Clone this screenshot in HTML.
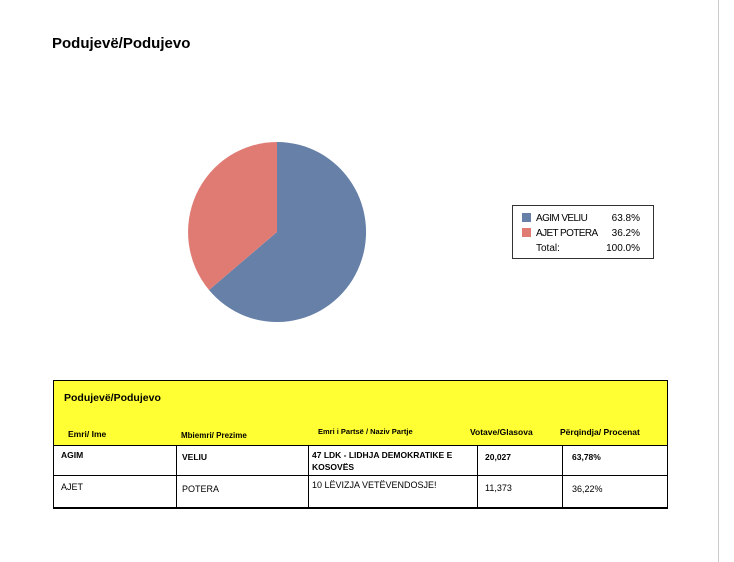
<!DOCTYPE html>
<html><head><meta charset="utf-8"><style>
body{margin:0;width:734px;height:562px;background:#fff;position:relative;overflow:hidden;font-family:"Liberation Sans",sans-serif;}
.a{position:absolute;white-space:nowrap;}
</style></head><body>
<div class="a" style="left:718px;top:0;width:1px;height:562px;background:#ccc"></div>
<div class="a" style="left:52px;top:35px;font-size:15px;font-weight:bold;">Podujevë/Podujevo</div>
<svg class="a" style="left:0;top:0" width="734" height="562">
<path d="M277,232 L277,142 A89,90 0 1 1 209,290 Z" fill="#6680a8"/>
<path d="M277,232 L209,290 A89,90 0 0 1 277,142 Z" fill="#e07b74"/>
<rect x="512.5" y="205.5" width="141" height="53" fill="#fff" stroke="#333"/>
<rect x="522" y="213" width="9" height="9" fill="#6680a8"/>
<rect x="522" y="228" width="9" height="9" fill="#e07b74"/>
<g font-size="10" font-family="Liberation Sans" fill="#000">
<text x="536" y="221" letter-spacing="-0.6">AGIM VELIU</text><text x="640" y="221" text-anchor="end">63.8%</text>
<text x="536" y="236" letter-spacing="-0.6">AJET POTERA</text><text x="640" y="236" text-anchor="end">36.2%</text>
<text x="536" y="251">Total:</text><text x="640" y="251" text-anchor="end">100.0%</text>
</g>
<rect x="53" y="380" width="615" height="65" fill="#ffff33"/>
<g stroke="#000" fill="none">
<path d="M53.5,380 V508 M667.5,380 V508 M53,380.5 H668 M53,445.5 H668 M53,475.5 H668"/>
<path d="M53,508 H668" stroke-width="2"/>
<path d="M176.5,445 V508 M308.5,445 V508 M477.5,445 V508 M562.5,445 V508"/>
</g>
<g font-family="Liberation Sans" font-size="9" fill="#000">
<text x="64" y="401" font-size="10.5" font-weight="bold">Podujevë/Podujevo</text>
<text x="68" y="437" font-weight="bold" font-size="8.5">Emri/ Ime</text>
<text x="181" y="438" font-weight="bold" font-size="8">Mbiemri/ Prezime</text>
<text x="318" y="434" font-weight="bold" font-size="7.5">Emri i Partsë / Naziv Partje</text>
<text x="470" y="435" font-weight="bold" font-size="8.5">Votave/Glasova</text>
<text x="560" y="435" font-weight="bold" font-size="8.5">Përqindja/ Procenat</text>
<g font-weight="bold" font-size="8.5">
<text x="61" y="458">AGIM</text><text x="182" y="460">VELIU</text>
<text x="312" y="458">47 LDK - LIDHJA DEMOKRATIKE E</text><text x="312" y="470">KOSOVËS</text>
<text x="485" y="460">20,027</text><text x="572" y="460">63,78%</text>
</g>
<text x="61" y="490">AJET</text><text x="182" y="492">POTERA</text>
<text x="312" y="488">10 LËVIZJA VETËVENDOSJE!</text>
<text x="485" y="491">11,373</text><text x="572" y="492">36,22%</text>
</g>
</svg>
</body></html>
